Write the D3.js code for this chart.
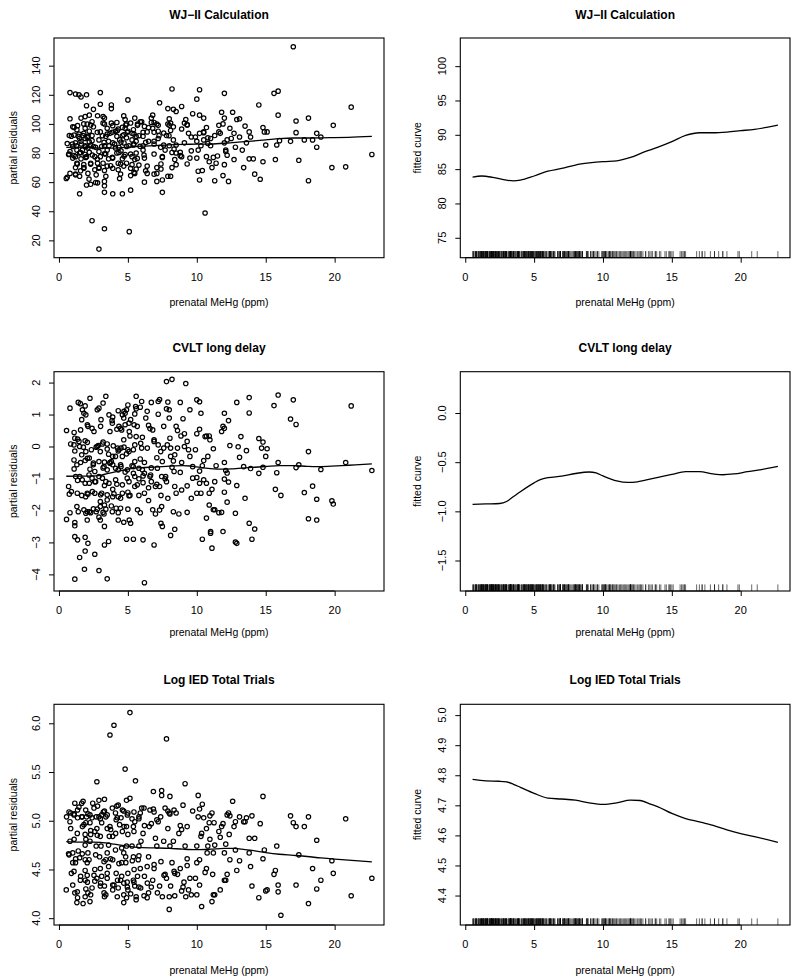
<!DOCTYPE html>
<html><head><meta charset="utf-8">
<script src="https://cdn.jsdelivr.net/npm/d3@7"></script>
<style>body{margin:0;background:#fff}svg{display:block}text{font-family:"Liberation Sans",Arial,Helvetica,sans-serif;fill:#000}</style>
</head><body><svg id="c" width="800" height="977"></svg>
<script>
// ---------- data ----------
const xTicks = [0, 5, 10, 15, 20];
const xDomain = [-0.36, 23.58];

const wjTicks = [20, 40, 60, 80, 100, 120, 140];
const wjFitTicks = [75, 80, 85, 90, 95, 100];
const cvTicks = [-4, -3, -2, -1, 0, 1, 2];
const cvFitTicks = [-1.5, -1.0, -0.5, 0.0];
const iedTicks = [4.0, 4.5, 5.0, 5.5, 6.0];
const iedFitTicks = [4.4, 4.5, 4.6, 4.7, 4.8, 4.9, 5.0];

const wjResid = [[17.0,153],[21.2,111.5],[19.9,99],[22.7,79],[19.8,70],[20.8,70.5],[18.1,61],[18.1,104],[18.7,93.5],[18.7,84],[19.0,91],[18.4,89],[17.8,89],[16.8,88],[17.2,94],[17.2,102],[17.4,75],[15.6,121],[15.9,122.5],[15.9,106],[16.0,88.5],[15.8,85.5],[15.7,75.5],[14.5,113],[14.8,97.5],[14.9,94.5],[15.1,94.5],[15.0,85.5],[14.8,74],[14.6,62],[14.2,65.5],[14.1,76],[13.8,76],[13.8,94.5],[13.9,91],[13.5,98.5],[13.6,87],[13.4,70],[13.1,103.5],[12.9,103],[13.1,91],[13.3,82],[12.7,75.5],[12.8,84],[12.6,108],[12.4,97],[12.3,60.5],[12.2,78.5],[12.1,81],[11.8,108],[12.0,121],[12.0,104],[11.9,100],[11.7,93.5],[12.0,87],[12.1,82],[11.9,64.5],[12.0,72],[11.6,99],[11.3,61],[11.4,73],[11.3,92],[11.1,70],[11.0,85],[10.9,74],[10.6,38.8],[10.2,123.5],[10.0,117],[10.5,104],[10.2,106],[9.7,107],[10.7,97.5],[10.5,94.5],[10.2,93.5],[9.9,91],[10.0,88],[10.3,85],[10.1,82],[10.0,76.5],[10.1,67.5],[10.2,61.5],[10.4,68],[10.7,77.5],[10.8,86.5],[8.9,112],[9.2,103],[9.3,99.5],[9.4,93.5],[9.6,91],[9.1,87],[8.9,96.5],[9.6,81.5],[9.5,76.5],[9.3,72.5],[8.8,80.5],[8.9,77.5],[8.5,80],[8.4,75.5],[8.5,72],[8.2,70],[8.2,124],[8.5,108.5],[8.3,110],[7.9,110.5],[8.0,103.5],[8.0,99],[8.1,95.5],[8.3,98],[7.8,92],[8.3,89],[8.5,85.5],[7.7,82],[7.6,85.5],[7.5,77.5],[7.4,72.5],[7.1,70],[7.4,69],[7.5,53],[7.3,114.5],[7.2,99],[6.8,97],[7.2,95],[7.2,90],[6.9,88],[7.1,66],[6.9,65.5],[7.1,60.5],[7.5,61.5],[7.9,64],[8.1,64],[6.8,106],[6.7,104],[6.7,101],[6.5,97.5],[6.4,94.5],[6.1,91.5],[6.5,88],[6.1,85],[6.1,82],[6.2,76.5],[6.4,71],[6.2,60],[6.4,66],[5.9,101.5],[5.5,104],[5.7,99],[5.4,96],[5.3,93.5],[5.6,91.5],[5.3,89],[5.6,88],[5.4,85.5],[5.6,80],[5.3,77.5],[5.5,75.5],[5.3,72],[5.6,69],[5.5,66],[5.2,64.5],[5.2,54.5],[5.0,116.5],[5.1,26],[4.7,105.5],[4.8,103],[4.9,100],[4.8,97],[5.0,95],[4.7,92.5],[4.9,90.5],[4.5,87.5],[4.9,84.5],[4.5,81.5],[4.8,79],[4.6,76],[4.9,73],[4.7,71],[4.6,52],[4.3,96.5],[4.1,95],[4.2,91.5],[4.4,89],[3.9,87],[4.1,83.5],[4.2,80],[3.9,76.5],[4.3,73],[4.3,68.5],[4.4,62.5],[3.9,52],[3.9,69.5],[3.8,113],[3.8,110.5],[3.8,100.5],[3.5,97],[3.7,93.5],[3.4,91.5],[3.6,88],[3.3,85],[3.5,82],[3.3,79.5],[3.6,76],[3.2,73],[3.5,71],[3.3,68],[3.4,64],[3.3,60.5],[3.3,57.5],[3.3,53],[3.3,28],[3.3,104],[3.2,100.5],[3.0,121.5],[3.0,113.5],[3.0,94.5],[2.9,89],[3.1,84.5],[2.9,81],[3.0,77.5],[2.8,73],[2.9,69.5],[2.8,59.5],[2.9,14],[2.7,65],[2.6,68.5],[2.6,77.5],[2.5,84.5],[2.4,88.5],[2.5,98],[2.4,101.5],[2.5,110],[2.2,106],[2.2,95],[2.1,91.5],[2.2,87.5],[2.1,83.5],[2.2,80.5],[2.0,77.5],[2.3,73],[2.1,66],[2.3,58.5],[2.4,33.5],[2.0,120],[2.0,112.5],[1.9,105],[1.6,104],[1.8,100],[1.9,97],[1.8,93.5],[1.9,90],[1.6,88],[1.9,85],[1.7,82],[1.9,79],[1.6,76],[1.8,72],[1.8,69.5],[2.0,58],[1.6,118.5],[1.5,52],[1.5,80],[1.5,90],[1.3,96],[1.4,91.5],[1.2,120.5],[1.2,87],[1.3,82],[1.2,77.5],[1.3,73],[1.2,70],[1.2,65],[1.5,64],[1.0,98],[0.9,91.5],[1.0,84.5],[1.0,76.5],[0.8,121.5],[0.8,103.5],[0.8,66],[0.8,81],[0.6,86.5],[0.53,62.5],[0.7,79],[11.5,78],[11.2,77],[11.6,94.5],[11.0,90],[10.8,90.5],[10.5,94],[10.5,89],[12.7,93.5],[12.5,90],[12.2,89],
[1.45,120],[2.8,105.6],[3.2,105],[1.1,97.6],[1.35,98.8],[2.05,99.9],[2.3,99.2],[3.3,99.9],[3.9,98.8],[4.2,101],[4.6,97.6],[4.85,99.2],[5.2,100.6],[5.7,99.9],[6.0,101.5],[6.2,98.3],[6.9,101],[7.1,99.9],[7.9,99.9],[8.1,100.6],[9.1,100.6],[9.3,99.2],[0.75,92],[1.1,92.3],[1.45,93],[1.75,92],[2.05,90.7],[2.4,92],[2.78,94.2],[3.15,91.9],[3.5,93],[3.87,94.2],[4.23,95.3],[4.6,91.9],[4.96,94.2],[5.44,93],[5.8,91.9],[6.1,94.2],[6.9,94.2],[7.26,91.9],[7.6,93.7],[7.98,91.9],[0.97,86.2],[1.28,85],[1.62,86.2],[1.94,84.3],[2.3,85.5],[2.66,83.9],[3.27,87.3],[3.63,85],[4.04,86.2],[4.35,83.9],[4.72,86.9],[5.08,85],[5.44,86.2],[5.88,84.6],[6.29,87.3],[6.9,86.2],[7.38,83.9],[8.0,85],[8.35,82.7],[0.73,79.3],[1.09,78.2],[1.57,80.4],[1.94,77],[2.42,78.6],[2.78,75.9],[3.39,79.3],[3.87,77],[4.35,80.4],[4.72,77.7],[5.2,79.3],[5.68,76.3],[6.17,78.6],[6.9,79.3],[7.5,77],[8.2,80.4],[8.8,78.2],[1.33,72.4],[1.81,70.1],[2.3,72.4],[2.9,70.1],[3.75,71.3],[4.47,72.4],[5.2,69.5],[5.8,71.7],[0.6,63.3],[1.2,65.6],[1.57,67.8],[2.18,62.1],[2.66,59.8],[4.47,65.6],[5.44,66.7],[6.29,67.8]];

const cvResid = [[7.8,2.03],[8.2,2.1],[9.2,1.97],[21.2,1.27],[22.7,-0.75],[20.8,-0.5],[19.9,-1.8],[19.8,-1.7],[19.0,-0.72],[18.7,-2.3],[18.7,-1.65],[18.4,-1.24],[18.1,-0.16],[18.1,-2.26],[17.8,-1.44],[17.4,-0.57],[17.2,-0.66],[17.2,0.69],[17.0,1.46],[16.8,0.86],[15.9,1.61],[15.6,1.28],[15.9,-0.5],[15.8,-0.82],[15.7,-1.34],[16.1,-1.53],[15.0,-0.31],[15.1,-0.07],[14.8,0.14],[14.5,0.25],[14.8,-0.65],[14.5,-0.84],[14.7,-0.05],[14.2,-2.58],[14.0,-2.9],[13.8,-2.4],[13.9,-0.69],[13.8,1.05],[13.8,1.53],[13.5,-1.62],[13.6,-0.13],[13.4,-0.63],[13.2,0.31],[13.1,-0.34],[13.0,-0.01],[12.9,-1.22],[12.8,-2.09],[12.8,-2.99],[12.9,-3.03],[12.9,1.38],[12.3,0.81],[12.4,0.03],[12.3,-1.11],[12.2,-0.83],[12.1,-0.75],[12.0,1.04],[12.0,0.57],[11.9,0.63],[11.8,0.47],[12.0,-0.5],[12.0,-1.02],[12.0,-1.43],[12.2,-1.74],[11.9,-2.66],[11.8,-2.06],[11.6,-2.07],[11.3,-1.98],[11.2,-1.98],[11.1,-3.18],[11.0,-2.66],[11.0,-2.71],[10.9,-1.83],[10.9,-1.46],[11.1,-1.34],[11.3,-1.1],[11.4,-0.6],[11.2,-0.07],[10.9,0.33],[10.7,0.33],[10.6,0.31],[10.95,0.21],[10.8,-0.31],[10.5,-0.44],[10.4,-0.6],[10.2,-0.77],[10.5,-1.04],[10.7,-1.15],[10.2,-1.15],[10.0,-1.46],[10.3,-1.46],[10.7,-2.24],[10.4,-2.9],[10.3,1.04],[10.2,1.4],[10.0,1.46],[10.2,0.54],[10.0,0.4],[9.9,-0.1],[10.0,-0.97],[9.7,-0.99],[9.6,-1.62],[9.7,-0.63],[9.5,-0.31],[9.4,-0.1],[9.1,0.0],[9.3,0.16],[9.1,0.4],[9.0,0.87],[8.85,0.33],[8.9,-0.5],[8.8,-0.81],[8.9,-1.36],[9.3,-1.23],[9.3,-2.06],[9.5,1.15],[8.8,1.38],[8.6,0.5],[8.5,0.63],[8.6,-0.05],[8.4,-0.26],[8.3,-0.45],[8.1,-0.31],[8.2,-0.65],[8.1,-0.05],[8.4,-1.25],[8.5,-1.46],[8.4,-2.59],[8.7,-2.11],[8.1,-2.78],[8.3,-2.04],[7.9,-1.62],[7.8,-1.1],[7.7,-1.01],[8.05,0.26],[8.0,1.15],[8.0,0.89],[7.9,1.39],[7.8,1.18],[7.6,0.63],[7.6,-0.05],[7.5,-0.47],[7.45,-0.94],[7.4,-1.53],[7.45,-1.88],[7.4,-2.4],[7.5,-2.5],[7.2,0.05],[7.1,-0.35],[7.2,1.41],[7.3,1.47],[7.2,1.01],[7.0,-1.25],[7.1,-1.18],[7.3,-1.25],[7.3,-1.99],[6.8,-1.98],[7.0,-2.11],[6.9,-3.08],[6.9,0.21],[6.8,0.52],[6.6,0.56],[6.5,0.66],[6.7,1.38],[6.7,-0.67],[6.6,-0.94],[6.7,-1.1],[6.5,-1.29],[6.5,-1.69],[6.3,0.89],[6.4,1.1],[6.2,-0.84],[6.1,-0.92],[6.2,-0.5],[6.1,-1.13],[6.2,-1.46],[6.1,-2.92],[6.2,-4.26],[5.9,1.23],[6.0,1.41],[6.05,0.29],[6.0,-0.05],[5.9,-0.39],[5.8,-0.68],[5.8,-1.01],[5.8,-1.53],[5.9,-2.07],[5.7,-1.98],[5.6,1.57],[5.6,1.18],[5.5,1.02],[5.45,0.68],[5.6,0.31],[5.5,0.05],[5.4,-0.1],[5.5,-0.47],[5.3,-0.6],[5.4,-0.84],[5.5,-0.94],[5.5,-1.25],[5.4,-2.9],[5.0,1.3],[5.1,0.47],[5.15,0.33],[5.2,0.84],[4.9,1.15],[4.8,1.04],[4.8,0.68],[5.0,-0.1],[4.9,-0.23],[4.8,-0.8],[4.95,-0.99],[5.0,-1.43],[5.15,-1.53],[5.0,-1.96],[5.1,-2.3],[5.2,-2.4],[4.9,-2.9],[4.7,0.89],[4.6,0.99],[4.55,0.52],[4.7,0.21],[4.5,-0.05],[4.6,-0.31],[4.5,-0.63],[4.6,-1.46],[4.7,-2.37],[4.3,1.12],[4.35,0.63],[4.2,0.54],[4.25,-0.05],[4.3,-0.14],[4.1,-0.31],[4.3,-0.73],[4.2,-1.18],[4.3,-1.57],[4.15,-1.93],[4.3,-2.07],[4.3,-2.3],[3.9,0.92],[3.85,0.81],[3.8,-0.47],[3.9,-0.31],[3.9,-0.57],[3.9,-1.34],[3.9,-1.57],[3.8,-1.86],[3.7,0.47],[3.7,-0.5],[3.5,0.08],[3.6,-0.24],[3.5,-0.73],[3.4,-1.1],[3.5,-1.51],[3.3,-1.83],[3.4,-1.96],[3.6,-2.97],[3.5,-4.14],[3.4,1.57],[3.3,-3.08],[3.3,-2.5],[3.2,0.14],[3.3,-0.49],[3.2,-0.67],[3.3,-1.22],[3.1,-1.46],[3.2,-2.06],[3.2,1.36],[3.05,0.84],[2.9,1.2],[3.0,-0.16],[2.85,0.03],[2.9,-0.94],[3.0,-1.72],[3.0,-1.88],[3.0,-2.3],[2.9,-2.21],[2.9,-3.88],[2.7,-2.04],[2.6,-1.1],[2.6,-0.78],[2.6,-1.46],[2.7,-0.02],[2.5,-0.52],[2.5,-1.95],[2.6,-3.37],[2.25,1.51],[2.4,0.57],[2.1,0.63],[2.4,-0.99],[2.2,-1.15],[2.25,-0.71],[2.2,-0.36],[2.1,-1.49],[2.05,-1.46],[2.2,-2.04],[2.05,-2.04],[2.1,-3.03],[2.05,-2.3],[1.95,0.99],[1.9,0.18],[1.95,-0.16],[1.9,-0.44],[1.9,-1.15],[1.95,-2.09],[1.9,-2.84],[1.9,-3.27],[1.85,-3.84],[1.9,1.27],[1.7,1.15],[1.65,0.84],[1.55,1.34],[1.5,0.0],[1.65,-0.26],[1.5,-0.94],[1.65,-1.53],[1.5,-3.47],[1.4,1.38],[1.35,0.23],[1.3,-0.57],[1.35,-1.06],[1.3,-1.88],[1.4,-2.04],[1.35,-2.92],[1.15,0.26],[1.15,-0.14],[1.1,-0.7],[1.1,0.44],[1.15,-2.82],[1.15,-4.15],[1.15,-2.48],[1.15,-2.38],[0.9,-1.41],[0.85,0.08],[0.8,1.2],[0.75,-1.49],[0.8,-2.07],[0.7,-1.25],[0.55,-2.28],[0.55,0.5],
[1.09,0.05],[1.45,0.16],[1.77,-0.02],[2.06,0.13],[2.35,-0.1],[2.78,0],[3.15,0.08],[3.5,-0.08],[3.94,0.02],[4.35,-0.1],[4.72,-0.02],[5.08,-0.16],[1.09,-0.42],[1.57,-0.5],[2.06,-0.37],[2.49,-0.57],[2.9,-0.47],[3.27,-0.63],[3.7,-0.52],[4.11,-0.68],[4.47,-0.57],[4.96,-0.73],[5.39,-0.63],[1.21,-0.94],[1.69,-1.04],[2.18,-0.89],[2.66,-1.1],[3.15,-0.99],[3.63,-1.15],[4.11,-1.04],[4.6,-1.2],[5.08,-1.1],[5.68,-1.2],[1.33,-1.46],[1.94,-1.57],[2.42,-1.41],[3.02,-1.51],[3.5,-1.67],[3.99,-1.48],[4.47,-1.62],[5.08,-1.54],[1.81,-1.98],[2.3,-2.07],[2.78,-1.96],[3.27,-2.11],[3.87,-2.04],[4.47,-1.93],[5.93,0.1],[6.41,-0.05],[6.9,0.16],[7.38,-0.16],[7.86,0.05],[6.05,-0.73],[6.65,-0.89],[7.14,-0.68],[7.74,-0.94],[8.35,-0.78],[1.57,0.52],[2.06,0.68],[2.54,0.47],[3.02,0.63],[3.87,0.73],[4.47,0.57],[5.08,0.73],[5.68,0.63],[1.81,1.04],[2.78,1.15],[3.63,0.99],[4.72,1.1],[5.56,1.25]];

const iedResid = [[5.15,6.11],[3.99,5.98],[3.7,5.88],[7.8,5.84],[4.8,5.53],[5.55,5.41],[2.75,5.4],[9.15,5.38],[6.85,5.3],[7.45,5.31],[7.45,5.26],[8.05,5.25],[10.1,5.26],[14.8,5.25],[20.8,5.02],[16.8,5.05],[17.0,4.98],[17.2,4.94],[17.8,4.94],[18.1,5.04],[18.7,4.8],[18.4,4.51],[19.0,4.39],[19.8,4.59],[19.9,4.46],[22.7,4.41],[21.2,4.23],[18.1,4.15],[18.7,4.3],[17.4,4.65],[17.2,4.34],[16.1,4.03],[15.9,4.27],[15.9,4.34],[15.8,4.74],[15.7,4.49],[15.6,4.45],[15.1,4.29],[15.0,4.28],[14.9,4.7],[14.8,4.61],[14.6,4.97],[14.5,4.21],[14.2,4.82],[14.0,5.05],[14.0,4.33],[13.8,4.82],[13.8,4.67],[13.9,4.53],[13.6,5.03],[13.5,4.99],[13.4,4.99],[13.1,5.04],[13.1,4.59],[12.9,4.49],[12.8,4.7],[12.8,4.99],[12.7,4.94],[12.6,5.2],[12.4,5.05],[12.3,5.08],[12.2,5.06],[12.35,4.86],[12.4,4.6],[12.2,4.45],[12.1,4.39],[12.0,4.39],[12.1,4.76],[12.0,4.67],[11.9,4.97],[11.8,4.94],[11.7,4.83],[11.6,4.89],[11.7,4.29],[11.3,4.24],[11.2,4.24],[11.1,4.17],[11.15,4.45],[11.2,4.67],[11.3,4.75],[11.25,4.98],[11.1,5.08],[10.95,5.05],[10.9,4.98],[10.95,4.81],[10.8,4.74],[10.75,4.67],[10.7,4.51],[10.6,4.47],[10.7,4.92],[10.5,5.03],[10.4,5.17],[10.2,5.12],[10.35,4.87],[10.3,4.84],[10.35,4.12],[10.2,4.6],[10.0,4.57],[10.0,4.74],[10.1,5.04],[10.2,4.34],[10.0,4.24],[9.9,4.41],[9.7,5.1],[9.6,4.24],[9.5,4.41],[9.4,4.29],[9.3,4.54],[9.3,4.61],[9.15,4.74],[9.3,4.94],[9.0,5.16],[9.2,4.22],[9.0,4.32],[8.9,4.28],[8.8,4.51],[8.9,4.91],[8.8,4.95],[8.7,4.87],[8.6,4.45],[8.4,4.46],[8.4,4.23],[8.5,5.08],[8.3,4.79],[8.2,4.57],[8.1,4.33],[8.0,4.22],[8.0,4.09],[8.05,4.74],[7.9,4.92],[8.05,5.07],[7.9,5.1],[7.7,5.13],[7.8,4.41],[7.7,4.45],[7.5,4.22],[7.6,4.79],[7.4,4.58],[7.3,4.33],[7.2,4.99],[7.1,5.01],[7.1,4.74],[7.0,4.82],[6.9,4.55],[6.8,4.39],[6.7,4.32],[6.85,5.12],[6.6,5.11],[6.55,4.94],[6.7,4.97],[6.5,4.63],[6.4,4.53],[6.5,4.26],[6.4,4.21],[6.2,4.43],[6.2,4.95],[6.1,4.87],[6.0,5.13],[5.9,5.08],[5.8,5.02],[5.95,4.79],[5.8,4.74],[5.75,4.6],[5.9,4.51],[5.7,4.43],[5.8,4.32],[5.6,4.22],[5.6,4.19],[5.5,4.33],[5.4,4.39],[5.45,4.5],[5.4,4.63],[5.3,4.74],[5.4,4.94],[5.5,4.99],[5.3,5.02],[5.15,5.23],[4.9,5.21],[5.0,5.08],[4.9,4.94],[5.0,4.86],[4.9,4.74],[4.85,4.57],[5.0,4.46],[4.95,4.37],[5.0,4.29],[4.9,4.21],[4.7,4.24],[4.7,4.16],[4.7,4.36],[4.55,4.43],[4.55,4.57],[4.7,4.67],[4.55,4.72],[4.6,4.89],[4.7,5.1],[4.5,5.03],[4.4,4.96],[4.3,5.16],[4.2,5.15],[4.1,5.08],[4.15,5.01],[3.9,4.84],[4.1,4.7],[3.9,4.6],[4.15,4.46],[3.9,4.34],[4.3,4.31],[4.25,4.39],[3.9,4.29],[3.7,4.94],[3.75,4.91],[3.65,4.84],[3.6,4.75],[3.5,4.67],[3.4,4.6],[3.6,4.53],[3.5,4.46],[3.4,4.24],[3.3,4.22],[3.3,4.33],[3.3,5.1],[3.3,5.22],[3.4,5.04],[3.1,5.06],[3.0,5.02],[3.1,4.98],[3.0,4.84],[3.05,4.74],[2.95,4.63],[3.0,4.51],[3.1,4.43],[3.0,4.33],[2.9,5.21],[2.8,5.15],[2.7,5.04],[2.75,4.92],[2.6,4.89],[2.7,4.74],[2.6,4.5],[2.75,4.41],[2.6,4.38],[2.4,4.31],[2.25,4.17],[2.45,5.18],[2.4,5.03],[2.25,4.98],[2.3,4.86],[2.25,4.79],[2.1,5.07],[2.0,5.04],[2.1,4.67],[2.05,4.57],[2.05,4.44],[2.1,4.26],[1.95,4.98],[1.9,4.86],[1.95,4.81],[1.9,4.75],[1.9,4.6],[1.9,4.49],[1.9,4.39],[1.95,4.3],[1.9,4.22],[1.75,4.15],[1.75,5.2],[1.65,5.18],[1.65,5.04],[1.7,4.94],[1.55,4.39],[1.5,4.62],[1.4,4.69],[1.35,5.11],[1.35,5.03],[1.2,4.57],[1.15,4.26],[1.35,4.21],[1.3,4.16],[1.15,5.18],[1.1,5.07],[1.1,4.81],[1.0,4.67],[1.0,4.57],[0.9,4.46],[1.0,4.34],[0.85,5.08],[0.8,4.99],[0.8,4.79],[0.7,4.66],[0.55,5.04],[0.53,4.29],
[0.73,5.09],[1.09,5.06],[1.45,5.14],[1.69,5.04],[1.94,5.11],[2.25,5.06],[2.54,5.13],[2.9,5.04],[3.22,5.09],[3.5,5.06],[3.87,5.13],[4.23,5.03],[4.6,5.11],[4.96,5.06],[5.44,5.09],[5.8,5.04],[6.17,5.13],[6.9,5.09],[7.38,5.04],[8.0,5.08],[8.35,5.11],[0.85,4.92],[1.33,4.87],[1.81,4.96],[2.3,4.9],[2.78,4.85],[3.5,4.92],[4.11,4.87],[4.72,4.94],[5.44,4.89],[0.73,4.65],[1.21,4.61],[1.69,4.66],[2.18,4.6],[2.66,4.65],[3.27,4.58],[3.75,4.61],[4.35,4.56],[4.84,4.63],[5.32,4.59],[5.8,4.64],[1.09,4.48],[1.57,4.43],[2.06,4.37],[2.54,4.44],[3.02,4.36],[3.5,4.41],[3.99,4.34],[4.47,4.39],[4.96,4.32],[5.44,4.37],[5.93,4.31],[6.41,4.36],[1.33,4.27],[2.3,4.24],[3.27,4.26],[4.23,4.22],[5.2,4.25],[6.17,4.23],[7.14,4.26],[6.9,4.51],[7.62,4.44],[8.35,4.48],[9.07,4.37]];

const wjFit = [[0.53,83.85],[1.2,84.0],[2,83.8],[3,83.4],[3.5,83.3],[4,83.4],[5,84.0],[6,84.7],[7,85.1],[8,85.6],[9,85.9],[10,86.1],[11,86.2],[12,86.7],[13,87.5],[14,88.2],[15,89.0],[16,89.9],[17,90.3],[18,90.3],[19,90.4],[20,90.6],[21,90.8],[22.7,91.4]];
const cvFit = [[0.53,-0.93],[1.5,-0.925],[2.5,-0.92],[3,-0.9],[3.5,-0.85],[4,-0.8],[5,-0.71],[5.5,-0.675],[6,-0.658],[7,-0.642],[8,-0.615],[9,-0.60],[9.5,-0.61],[10,-0.64],[11,-0.69],[11.8,-0.706],[12.5,-0.70],[13,-0.685],[14,-0.655],[15,-0.625],[16,-0.597],[17,-0.597],[18,-0.62],[18.7,-0.628],[19.5,-0.62],[20.5,-0.597],[21.5,-0.575],[22.7,-0.543]];
const iedFit = [[0.53,4.786],[1.5,4.781],[2.5,4.78],[3,4.778],[3.5,4.77],[4,4.76],[5,4.74],[6,4.724],[7,4.721],[8,4.717],[9,4.708],[10,4.703],[11,4.708],[12,4.717],[12.7,4.716],[13.5,4.703],[14,4.695],[15,4.673],[16,4.656],[17,4.645],[18,4.633],[19,4.618],[20,4.606],[21,4.596],[22.7,4.577]];

// rug values: the exposure values of the subjects
const rugX = wjResid.map(d => d[0]);

// ---------- layout ----------
const rows = [
  {top: 38, bottom: 257.7, title: 18.5, tick: 280.5, xlab: 306},
  {top: 371.7, bottom: 591, title: 351.5, tick: 614, xlab: 636},
  {top: 704.3, bottom: 925, title: 684, tick: 947.5, xlab: 973.5}
];
const cols = [{left: 54, right: 384}, {left: 460.3, right: 790}];

const panels = [
  {r:0,c:0,title:"WJ−II Calculation",ylab:"partial residuals",pts:wjResid,fit:wjFit,dom:[8.1,159],ticks:wjTicks,fmt:d3.format("d")},
  {r:0,c:1,title:"WJ−II Calculation",ylab:"fitted curve",rug:true,fit:wjFit,dom:[72.1,104.1],ticks:wjFitTicks,fmt:d3.format("d")},
  {r:1,c:0,title:"CVLT long delay",ylab:"partial residuals",pts:cvResid,fit:cvFit,dom:[-4.52,2.34],ticks:cvTicks,fmt:d3.format("d")},
  {r:1,c:1,title:"CVLT long delay",ylab:"fitted curve",rug:true,fit:cvFit,dom:[-1.81,0.42],ticks:cvFitTicks,fmt:d3.format(".1f")},
  {r:2,c:0,title:"Log IED Total Trials",ylab:"partial residuals",pts:iedResid,fit:iedFit,dom:[3.93,6.195],ticks:iedTicks,fmt:d3.format(".1f")},
  {r:2,c:1,title:"Log IED Total Trials",ylab:"fitted curve",rug:true,fit:iedFit,dom:[4.302,5.036],ticks:iedFitTicks,fmt:d3.format(".1f")}
];

const svg = d3.select("#c");
panels.forEach(p => {
  const R = rows[p.r], C = cols[p.c];
  const x = d3.scaleLinear().domain(xDomain).range([C.left, C.right]);
  const y = d3.scaleLinear().domain(p.dom).range([R.bottom, R.top]);
  const g = svg.append("g");

  g.append("text").attr("x", (C.left + C.right) / 2).attr("y", R.title)
    .attr("text-anchor", "middle").attr("font-weight", "bold").attr("font-size", 12).text(p.title);

  if (p.pts) {
    g.append("g").selectAll("circle").data(p.pts).join("circle")
      .attr("cx", d => x(d[0])).attr("cy", d => y(d[1])).attr("r", 2.2)
      .attr("fill", "none").attr("stroke", "#000").attr("stroke-width", 1.2);
  }
  if (p.rug) {
    g.append("g").selectAll("line").data(rugX).join("line")
      .attr("x1", d => x(d)).attr("x2", d => x(d))
      .attr("y1", R.bottom).attr("y2", R.bottom - 6.6)
      .attr("stroke", "#000").attr("stroke-width", 0.6);
  }
  g.append("path").datum(p.fit)
    .attr("d", d3.line().x(d => x(d[0])).y(d => y(d[1])).curve(d3.curveMonotoneX))
    .attr("fill", "none").attr("stroke", "#000").attr("stroke-width", 1.3);

  const xa = g.append("g").attr("transform", `translate(0,${R.bottom})`)
    .call(d3.axisBottom(x).tickValues(xTicks).tickSize(5).tickFormat(""));
  xa.select(".domain").remove();
  g.append("line").attr("x1", x(xTicks[0])).attr("x2", x(xTicks[xTicks.length - 1]))
    .attr("y1", R.bottom).attr("y2", R.bottom).attr("stroke", "#000");
  g.append("g").selectAll("text").data(xTicks).join("text")
    .attr("x", d => x(d)).attr("y", R.tick).attr("text-anchor", "middle")
    .attr("font-size", 11).text(d => d);

  const ya = g.append("g").attr("transform", `translate(${C.left},0)`)
    .call(d3.axisLeft(y).tickValues(p.ticks).tickSize(5).tickFormat(""));
  ya.select(".domain").remove();
  g.append("g").selectAll("text").data(p.ticks).join("text")
    .attr("transform", d => `translate(${C.left - 14.5},${y(d)}) rotate(-90)`)
    .attr("text-anchor", "middle").attr("font-size", 11).text(d => p.fmt(d));

  g.append("rect").attr("x", C.left).attr("y", R.top)
    .attr("width", C.right - C.left).attr("height", R.bottom - R.top)
    .attr("fill", "none").attr("stroke", "#000").attr("stroke-width", 1.1);

  g.append("text").attr("x", (C.left + C.right) / 2).attr("y", R.xlab)
    .attr("text-anchor", "middle").attr("font-size", 10.5).text("prenatal MeHg (ppm)");
  const yl = C.left - (p.c === 0 ? 37 : 39.5);
  g.append("text").attr("transform", `translate(${yl},${(R.top + R.bottom) / 2}) rotate(-90)`)
    .attr("text-anchor", "middle").attr("font-size", 10.5).text(p.ylab);
});
</script></body></html>
